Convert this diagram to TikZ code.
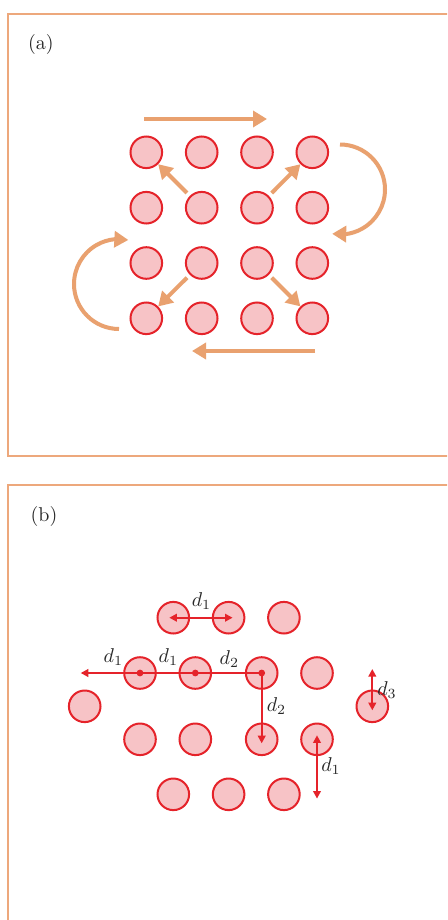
\documentclass[tikz,border=0pt]{standalone}
\usetikzlibrary{arrows.meta,bending}
\definecolor{arrorange}{RGB}{233,161,111}
\definecolor{frameorange}{RGB}{237,168,124}
\definecolor{atomfill}{RGB}{247,195,198}
\definecolor{atomred}{RGB}{229,35,42}
\definecolor{txtgray}{RGB}{40,40,40}
\tikzset{
  atom/.style={circle,draw=atomred,fill=atomfill,line width=1pt,minimum size=15.8pt,inner sep=0pt},
  flow/.style={draw=arrorange,line width=2pt,-{Triangle[length=7pt,width=8pt,flex]}},
  framebox/.style={draw=frameorange,line width=0.8pt},
  rline/.style={draw=atomred,line width=1pt},
  rtip/.tip={Triangle[length=3.8pt,width=3.8pt]},
  centermark/.style={circle,fill=atomred,inner sep=0pt,minimum size=3.4pt},
  dlabel/.style={text=txtgray,inner sep=0pt},
  panellabel/.style={text=txtgray,inner sep=0pt}
}
\begin{document}
\begin{tikzpicture}[x=0.5pt,y=-0.5pt]
\useasboundingbox (0,0) rectangle (447,920);
\clip (0,0) rectangle (447,920);
\fill[white] (0,0) rectangle (447,920);

% ---------- frames ----------
\draw[framebox] (470,14) -- (8,14) -- (8,456) -- (470,456);
\draw[framebox] (470,485) -- (8,485) -- (8,940);

\node[panellabel] (la) at (40.8,45) {(a)};
\node[panellabel] (lb) at (44,516.7) {(b)};

% ---------- panel (a) ----------
\foreach \r/\y in {1/152.3,2/207.7,3/263,4/318.3}{
  \foreach \c/\x in {1/146.3,2/201.7,3/257,4/312.3}{
    \node[atom] (A\r\c) at (\x,\y) {};
  }
}
\coordinate (topS) at (144,119);
\coordinate (topE) at (267,119);
\coordinate (botS) at (315,351);
\coordinate (botE) at (192,351);
\draw[flow] (topS) -- (topE);
\draw[flow] (botS) -- (botE);

\draw[flow,shorten <=2pt] (A22) -- (A11);
\draw[flow,shorten <=2pt] (A23) -- (A14);
\draw[flow,shorten <=2pt] (A32) -- (A41);
\draw[flow,shorten <=2pt] (A33) -- (A44);

\coordinate (rarcS) at (340,144.5);
\coordinate (larcS) at (119,329);
\draw[flow] (rarcS) arc[start angle=-90,end angle=100,radius=45];
\draw[flow] (larcS) arc[start angle=90,end angle=282,radius=45];

% ---------- panel (b) ----------
\foreach \c/\x in {1/173.3,2/228.6,3/283.9}{
  \node[atom] (B1\c) at (\x,617.7) {};
  \node[atom] (B4\c) at (\x,794.3) {};
}
\foreach \c/\x in {1/140,2/195.3,3/261.7,4/317}{
  \node[atom] (B2\c) at (\x,673) {};
  \node[atom] (B3\c) at (\x,739.3) {};
}
\node[atom] (BL) at (84.7,706.3) {};
\node[atom] (BR) at (372.3,706.3) {};

\coordinate (rowL) at (84.7,673);
\coordinate (d1end) at (317,794.6);
\coordinate (d3top) at (372.3,673);

\draw[rline,{rtip}-{rtip},shorten <=-2pt,shorten >=-2pt] (B11.center) -- (B12.center);
\draw[rline,-{rtip},shorten >=-2pt] (B23.center) -- (rowL);
\draw[rline,-{rtip},shorten >=-2pt] (B23.center) -- (B33.center);
\draw[rline,{rtip}-{rtip},shorten <=-2pt,shorten >=-2pt] (B34.center) -- (d1end);
\draw[rline,{rtip}-{rtip},shorten <=-2pt,shorten >=-2pt] (d3top) -- (BR.center);

\node[centermark] (m1) at (B21.center) {};
\node[centermark] (m2) at (B22.center) {};
\node[centermark] (m3) at (B23.center) {};

\node[dlabel] (t1) at (201.5,601) {$d_1$};
\node[dlabel] (t2) at (113.3,657.5) {$d_1$};
\node[dlabel] (t3) at (168.3,657.5) {$d_1$};
\node[dlabel] (t4) at (229.3,659) {$d_2$};
\node[dlabel] (t5) at (276.5,706) {$d_2$};
\node[dlabel] (t6) at (331,766) {$d_1$};
\node[dlabel] (t7) at (387,690) {$d_3$};
\end{tikzpicture}
\end{document}
